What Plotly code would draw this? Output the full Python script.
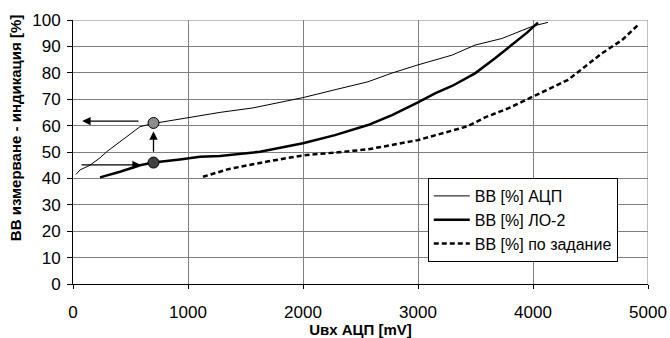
import plotly.graph_objects as go

# --- data ---
adc_x = [26, 61, 148, 235, 293, 409, 496, 583, 698, 870, 1017, 1278, 1565, 2000, 2270, 2565, 2774, 3000, 3296, 3496, 3730, 4000, 4130]
adc_y = [41.5, 43.2, 45, 47.8, 50.1, 53.9, 57, 59.6, 60.8, 62, 63.3, 65, 66.7, 70.6, 73.5, 76.6, 79.9, 83, 86.7, 90.5, 93, 97.7, 99.1]

lo2_x = [235, 409, 583, 696, 930, 1104, 1278, 1391, 1626, 2000, 2278, 2565, 2774, 3000, 3148, 3296, 3496, 3670, 3817, 3948, 4043]
lo2_y = [40.4, 42.5, 45, 46, 47.2, 48.2, 48.5, 49.1, 50.1, 53.3, 56.4, 60.2, 64, 68.8, 72.2, 75, 79.8, 85.5, 90.5, 95.2, 99]

task_x = [1130, 1350, 1700, 2000, 2278, 2565, 3000, 3435, 3583, 3783, 4000, 4304, 4600, 4774, 4913]
task_y = [40.6, 43.5, 46.5, 48.7, 49.8, 51, 54.5, 59.8, 63.1, 66.5, 71, 77.3, 87.4, 92.4, 98.1]

names = ["ВВ [%] АЦП", "ВВ [%] ЛО-2", "ВВ [%] по задание"]

# highlighted points (x, y)
pt_adc = (700, 61)
pt_lo2 = (700, 46)

# arrows: (tail_x, tail_y, head_x, head_y)
arrows = [
    (583, 61.7, 80, 61.7),
    (61, 45.1, 590, 45.1),
    (700, 49.5, 700, 57.8),
]

x_ticks = [0, 1000, 2000, 3000, 4000, 5000]
y_ticks = list(range(0, 101, 10))

FONT = "Arial, Liberation Sans, sans-serif"

fig = go.Figure()
fig.add_trace(go.Scatter(x=adc_x, y=adc_y, mode="lines", name=names[0],
                         line=dict(color="black", width=1)))
fig.add_trace(go.Scatter(x=lo2_x, y=lo2_y, mode="lines", name=names[1],
                         line=dict(color="black", width=2.5)))
fig.add_trace(go.Scatter(x=task_x, y=task_y, mode="lines", name=names[2],
                         line=dict(color="black", width=2.5, dash="5px,3px")))
fig.add_trace(go.Scatter(x=[pt_adc[0]], y=[pt_adc[1]], mode="markers", showlegend=False,
                         marker=dict(size=11, color="#8c8c8c", line=dict(color="black", width=1))))
fig.add_trace(go.Scatter(x=[pt_lo2[0]], y=[pt_lo2[1]], mode="markers", showlegend=False,
                         marker=dict(size=11, color="#404040", line=dict(color="black", width=1))))

for tx, ty, hx, hy in arrows:
    fig.add_annotation(x=hx, y=hy, ax=tx, ay=ty, xref="x", yref="y", axref="x", ayref="y",
                       text="", showarrow=True, arrowhead=2, arrowsize=1.3, arrowwidth=1.3,
                       arrowcolor="black")

# plot border (right / top) in grey
fig.add_shape(type="line", xref="x", yref="y", x0=5000, x1=5000, y0=0, y1=100,
              line=dict(color="#808080", width=1))
fig.add_shape(type="line", xref="x", yref="y", x0=0, x1=5000, y0=100, y1=100,
              line=dict(color="#808080", width=1))

fig.add_annotation(text="<b>ВВ измерване - индикация [%]</b>", textangle=-90,
                   xref="paper", yref="paper", x=-0.101, y=0.59, showarrow=False,
                   xanchor="center", yanchor="middle",
                   font=dict(family=FONT, size=15, color="black"))

fig.update_layout(
    template="none",
    width=670, height=338,
    margin=dict(l=73, r=22, t=20, b=54, autoexpand=False),
    paper_bgcolor="white", plot_bgcolor="white",
    font=dict(family=FONT, size=17, color="black"),
    showlegend=True,
    legend=dict(x=0.617, y=0.4015, xanchor="left", yanchor="top",
                bgcolor="white", bordercolor="black", borderwidth=1,
                font=dict(family=FONT, size=16, color="black"),
                tracegroupgap=0, itemwidth=36),
    xaxis=dict(range=[0, 5000], tickvals=x_ticks, ticktext=[str(v) for v in x_ticks],
               automargin=False,
               showgrid=True, gridcolor="#808080", gridwidth=1,
               showline=True, linecolor="black", linewidth=1,
               ticks="outside", ticklen=4, tickcolor="black", ticklabelstandoff=9,
               zeroline=False,
               title=dict(text="<b>Uвх АЦП [mV]</b>", font=dict(family=FONT, size=15), standoff=0)),
    yaxis=dict(range=[0, 100], tickvals=y_ticks, automargin=False,
               showgrid=True, gridcolor="#808080", gridwidth=1,
               showline=True, linecolor="black", linewidth=1,
               ticks="outside", ticklen=5, tickcolor="black", ticklabelstandoff=3,
               zeroline=False),
)

fig.write_html("out.html", config={"displayModeBar": False},
               post_script="document.body.style.margin='0px';document.body.style.overflow='hidden';")
